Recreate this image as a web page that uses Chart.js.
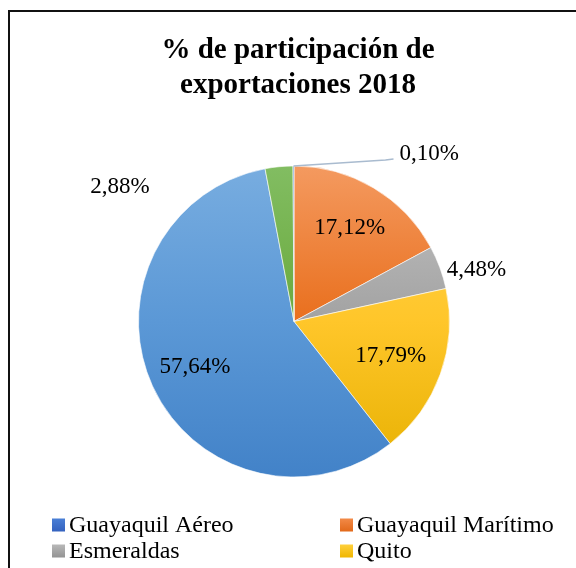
<!DOCTYPE html>
<html>
<head>
<meta charset="utf-8">
<script src="https://cdn.jsdelivr.net/npm/chart.js@4"></script>
<style>
  html, body { margin: 0; padding: 0; background: #fff; }
</style>
</head>
<body>
<canvas id="TAG" width="576" height="568"></canvas>
<script>
// slices in clockwise order starting at 12 o'clock
var labels = ["Guayaquil Marítimo", "Esmeraldas", "Quito", "Guayaquil Aéreo", "Otros", "Manta"];
var values = [17.12, 4.48, 17.79, 57.64, 2.88, 0.10];
var valueText = ["17,12%", "4,48%", "17,79%", "57,64%", "2,88%", "0,10%"];
var legendOrder = ["Guayaquil Aéreo", "Guayaquil Marítimo", "Esmeraldas", "Quito"];
var titleLines = ["% de participación de", "exportaciones 2018"];

// gradient stops (top -> bottom of the pie) for each slice
var shades = [
  ["#f49a60", "#e96f1d", "#d8620f"],
  ["#c4c4c4", "#a2a2a2", "#8c8c8c"],
  ["#ffd450", "#ffc62a", "#e6b000"],
  ["#78ade0", "#5b98d6", "#4282c8"],
  ["#82bd62", "#6aaa3e", "#5f9c36"],
  ["#4f7fcf", "#4472c4", "#3a64b0"]
];
// legend swatches, top -> bottom
var legendColors = {
  "Guayaquil Aéreo": ["#4a7fd6", "#3462bf"],
  "Guayaquil Marítimo": ["#f28a48", "#e2691a"],
  "Esmeraldas": ["#b8b8b8", "#939393"],
  "Quito": ["#ffd03c", "#f0b600"]
};

function sliceFill(ctx) {
  var area = ctx.chart.chartArea;
  var s = shades[ctx.dataIndex];
  if (!area) return s[1];
  var g = ctx.chart.ctx.createLinearGradient(0, area.top, 0, area.bottom);
  g.addColorStop(0, s[0]);
  g.addColorStop(0.5, s[1]);
  g.addColorStop(1, s[2]);
  return g;
}

var labelPlugin = {
  id: "sliceLabels",
  afterDatasetsDraw: function (chart, args, opts) {
    var c = chart.ctx;
    var arcs = chart.getDatasetMeta(0).data;
    c.save();
    c.font = "23px 'Liberation Serif'";
    c.fillStyle = "#000";
    c.textBaseline = "middle";
    arcs.forEach(function (arc, i) {
      var p = arc.getProps(["x", "y", "startAngle", "endAngle", "outerRadius"], true);
      var mid = (p.startAngle + p.endAngle) / 2;
      var pl = opts.place[i];
      if (pl.f) {
        c.textAlign = "center";
        c.fillText(valueText[i], p.x + Math.cos(mid) * p.outerRadius * pl.f,
                   p.y + Math.sin(mid) * p.outerRadius * pl.f);
        return;
      }
      var rx = p.x + Math.cos(mid) * p.outerRadius;
      var ry = p.y + Math.sin(mid) * p.outerRadius;
      if (pl.line) {
        c.strokeStyle = "#a9bbcf";
        c.lineWidth = 1.5;
        c.beginPath();
        c.moveTo(rx, ry);
        pl.line.forEach(function (q) { c.lineTo(rx + q[0], ry + q[1]); });
        c.stroke();
      }
      c.textAlign = pl.align;
      c.fillText(valueText[i], rx + pl.dx, ry + pl.dy);
    });
    c.restore();
  }
};

var framePlugin = {
  id: "frame",
  afterDraw: function (chart) {
    var c = chart.ctx;
    c.save();
    c.fillStyle = "#111";
    c.fillRect(8, 10, 568, 2);
    c.fillRect(8, 10, 2, 558);

    c.fillStyle = "#000";
    c.textAlign = "center";
    c.textBaseline = "middle";
    c.font = "bold 29px 'Liberation Serif'";
    titleLines.forEach(function (t, k) { c.fillText(t, 298, 51 + k * 35); });

    c.font = "24px 'Liberation Serif'";
    c.textAlign = "left";
    legendOrder.forEach(function (name, k) {
      var x = k % 2 === 0 ? 52 : 340;
      var y = 525 + Math.floor(k / 2) * 26;
      var g = c.createLinearGradient(0, y - 6.5, 0, y + 6.5);
      g.addColorStop(0, legendColors[name][0]);
      g.addColorStop(1, legendColors[name][1]);
      c.fillStyle = g;
      c.fillRect(x, y - 6.5, 13, 13);
      c.fillStyle = "#000";
      c.fillText(name, x + 17, y + 1);
    });
    c.restore();
  }
};

new Chart("TAG", {
  type: "pie",
  data: {
    labels: labels,
    datasets: [{
      data: values,
      backgroundColor: sliceFill,
      borderColor: "rgba(255,255,255,0.6)",
      borderWidth: 1
    }]
  },
  options: {
    responsive: false,
    animation: false,
    devicePixelRatio: 1,
    layout: { padding: { top: 165, bottom: 90, left: 138, right: 126 } },
    plugins: {
      legend: { display: false },
      title: { display: false },
      tooltip: { enabled: false },
      sliceLabels: {
        place: [
          { f: 0.7 },
          { dx: 7, dy: 2, align: "left" },
          { f: 0.66 },
          { f: 0.7 },
          { dx: -159, dy: 20, align: "center" },
          { dx: 106, dy: -12, align: "left", line: [[92, -6], [100, -7]] }
        ]
      }
    }
  },
  plugins: [labelPlugin, framePlugin]
});
</script>
</body>
</html>
